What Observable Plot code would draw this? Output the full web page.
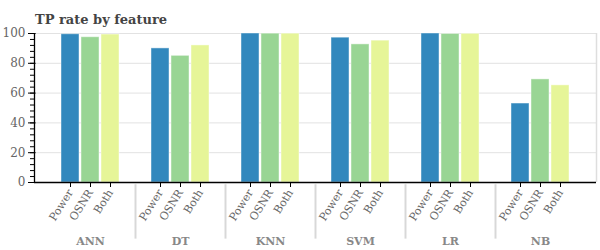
<!DOCTYPE html>
<html>
<head>
<meta charset="utf-8">
<script src="https://cdn.jsdelivr.net/npm/d3@7"></script>
<script src="https://cdn.jsdelivr.net/npm/@observablehq/plot@0.6"></script>
<style>
  html, body { margin: 0; padding: 0; background: #fff; }
  #chart svg { display: block; font-family: "DejaVu Serif", serif; }
</style>
</head>
<body>
<div id="chart"></div>
<script>
const title = "TP rate by feature";
const models = ["ANN", "DT", "KNN", "SVM", "LR", "NB"];
const features = ["Power", "OSNR", "Both"];
const colors = ["#3288bd", "#99d594", "#e6f598"];
const powerValues = [99.5, 90.0, 100.0, 97.2, 100.0, 53.0];
const osnrValues  = [97.5, 85.0, 99.9, 92.7, 99.7, 69.2];
const bothValues  = [99.3, 92.0, 99.9, 95.2, 99.8, 65.2];
const yTicks = [0, 20, 40, 60, 80, 100];

// layout of the categorical axis, in bar-slot units
const groupStep = 4.5, firstCenter = 2.8, xMax = 28.1, barHalf = 0.45;
const groupCenter = i => firstCenter + groupStep * i;

const seriesValues = [powerValues, osnrValues, bothValues];
const rows = [];
models.forEach((m, i) => features.forEach((f, j) => {
  rows.push({model: m, feature: f, value: seriesValues[j][i], pos: groupCenter(i) + (j - 1)});
}));
const tickLabel = new Map(rows.map(r => [r.pos, r.feature]));
const separators = models.slice(1).map((m, i) => groupCenter(i) + groupStep / 2);

const plot = Plot.plot({
  width: 600,
  height: 250,
  marginLeft: 34,
  marginRight: 4,
  marginTop: 33,
  marginBottom: 68,
  style: {fontFamily: "DejaVu Serif, serif", background: "#fff"},
  x: {domain: [0, xMax], axis: null},
  y: {domain: [0, 100], axis: null},
  color: {domain: features, range: colors},
  marks: [
    Plot.gridY(yTicks, {stroke: "#e2e2e2", strokeOpacity: 1}),
    Plot.ruleX([xMax], {stroke: "#dedede", strokeWidth: 1.5}),
    Plot.rectY(rows, {
      x1: d => d.pos - barHalf, x2: d => d.pos + barHalf,
      y1: 0, y2: "value", fill: "feature",
      stroke: "white", strokeOpacity: 0.45, strokeWidth: 1
    }),
    // y axis: minor and major ticks, labels
    Plot.axisY({ticks: d3.range(0, 101, 4), tickSize: 4, tickFormat: () => "", stroke: "#000", label: null}),
    Plot.axisY({ticks: yTicks, tickSize: 6, tickPadding: 3, stroke: "#000", label: null,
      fill: "#666", fontSize: 12, fontFamily: "DejaVu Serif, serif", tickFormat: d => String(d)}),
    Plot.ruleY(yTicks, {x1: 0, x2: 0.08, stroke: "#000"}),
    Plot.ruleX([0], {stroke: "#000", strokeWidth: 1.3}),
    Plot.ruleY([0], {stroke: "#000", strokeWidth: 1.3}),
    // x axis: feature ticks
    Plot.axisX({ticks: rows.map(r => r.pos), tickFormat: d => tickLabel.get(d),
      tickSize: 5, tickPadding: 3, tickRotate: -58, stroke: "#000", label: null,
      fill: "#666", fontSize: 11, fontFamily: "DejaVu Serif, serif"}),
    // group separators
    Plot.ruleX(separators, {y1: -1.5, y2: -38, stroke: "#d8d8d8", strokeWidth: 2, clip: false}),
    // group labels
    Plot.text(models, {x: (d, i) => groupCenter(i), frameAnchor: "bottom", dy: 62,
      text: d => d, fontWeight: "bold", fill: "#888", fontSize: 11, fontFamily: "DejaVu Serif, serif"})
  ]
});
d3.select(plot).append("text")
  .attr("x", 35).attr("y", 24)
  .attr("text-anchor", "start")
  .attr("font-family", "DejaVu Serif, serif")
  .attr("font-size", 13).attr("font-weight", "bold")
  .attr("fill", "#444")
  .text(title);
document.getElementById("chart").appendChild(plot);
</script>
</body>
</html>
